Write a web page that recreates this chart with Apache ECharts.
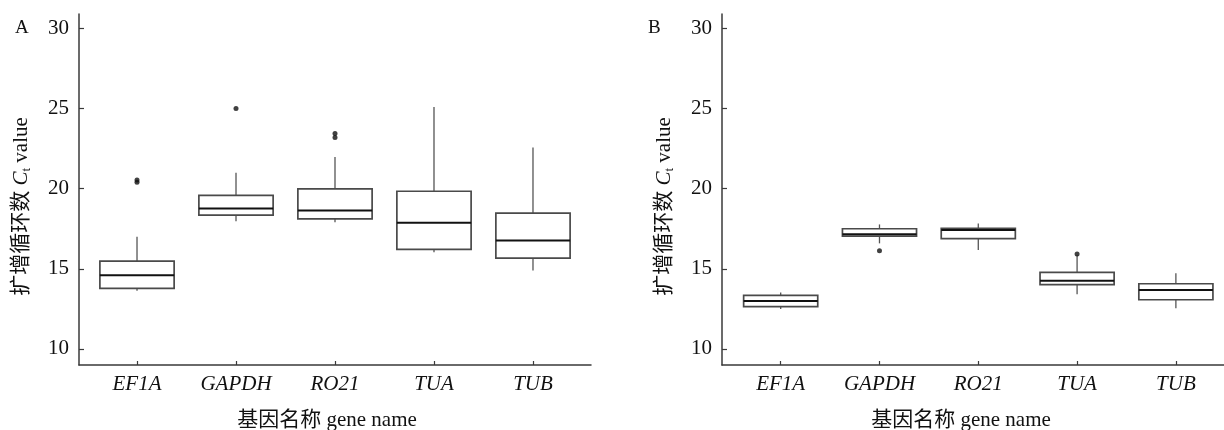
<!DOCTYPE html>
<html>
<head>
<meta charset="utf-8">
<script src="https://cdn.jsdelivr.net/npm/echarts@6/dist/echarts.min.js"></script>
<style>
  html, body { margin: 0; padding: 0; background: #fff; }
  #chart { width: 1224px; height: 430px; }
</style>
</head>
<body>
<div id="chart"></div>
<script>
// 基因名称
const genes = ['EF1A', 'GAPDH', 'RO21', 'TUA', 'TUB']
const yTicks = [10, 15, 20, 25, 30]

// 每个基因: [下须, Q1, 中位数, Q3, 上须]
const boxA = [
  [13.63, 13.78, 14.6, 15.48, 17.0],
  [17.97, 18.35, 18.77, 19.58, 21.0],
  [17.9, 18.12, 18.64, 19.99, 21.98],
  [16.03, 16.21, 17.87, 19.84, 25.1],
  [14.9, 15.67, 16.77, 18.47, 22.57]
]
const boxB = [
  [12.49, 12.64, 12.99, 13.34, 13.53],
  [16.59, 17.04, 17.16, 17.5, 17.77],
  [16.17, 16.89, 17.43, 17.53, 17.83],
  [13.41, 14.01, 14.26, 14.78, 15.85],
  [12.54, 13.07, 13.68, 14.07, 14.72]
]
// 离群点 [基因序号, 值]
const outA = [[0, 20.4], [0, 20.55], [1, 25.0], [2, 23.2], [2, 23.45]]
const outB = [[1, 16.13], [3, 15.92]]

const serif = 'Liberation Serif, "Times New Roman", "Noto Sans CJK SC", serif'
const axisColor = '#3a3a3a'
const boxW = 0.75

function renderBox(params, api) {
  let i = api.value(0)
  let lo = api.coord([i, api.value(1)])
  let q1 = api.coord([i, api.value(2)])
  let md = api.coord([i, api.value(3)])
  let q3 = api.coord([i, api.value(4)])
  let hi = api.coord([i, api.value(5)])
  let half = api.size([boxW, 0])[0] / 2
  let grey = { stroke: '#555', lineWidth: 1.3 }
  return {
    type: 'group',
    children: [
      { type: 'line', shape: { x1: lo[0], y1: lo[1], x2: q1[0], y2: q1[1] }, style: grey },
      { type: 'line', shape: { x1: q3[0], y1: q3[1], x2: hi[0], y2: hi[1] }, style: grey },
      {
        type: 'rect',
        shape: { x: q3[0] - half, y: q3[1], width: half * 2, height: q1[1] - q3[1] },
        style: { fill: '#fff', stroke: '#4a4a4a', lineWidth: 1.7 }
      },
      {
        type: 'line',
        shape: { x1: md[0] - half, y1: md[1], x2: md[0] + half, y2: md[1] },
        style: { stroke: '#111', lineWidth: 2 }
      }
    ]
  }
}

function xAxisOf(gridIndex, min, max, namePad) {
  return {
    type: 'value',
    gridIndex: gridIndex,
    min: min,
    max: max,
    name: '基因名称 gene name',
    nameLocation: 'middle',
    nameGap: 45,
    nameTextStyle: { fontFamily: serif, fontSize: 21, color: '#111', padding: namePad },
    splitLine: { show: false },
    axisLine: { show: true, onZero: false, lineStyle: { color: axisColor, width: 1.5 } },
    axisTick: { show: true, inside: true, length: 4, customValues: [0, 1, 2, 3, 4], lineStyle: { color: axisColor, width: 1.2 } },
    axisLabel: {
      customValues: [0, 1, 2, 3, 4],
      formatter: v => genes[v],
      fontFamily: serif,
      fontStyle: 'italic',
      fontSize: 21,
      color: '#111',
      margin: 9
    }
  }
}

function yAxisOf(gridIndex) {
  return {
    type: 'value',
    gridIndex: gridIndex,
    min: 9,
    max: 30.9,
    name: '{a|扩增循环数 }{c|C}{t|t}{a| value}',
    nameLocation: 'middle',
    nameGap: 46,
    nameRotate: 90,
    nameTextStyle: {
      padding: [0, 34, 0, 0],
      rich: {
        a: { fontFamily: serif, fontSize: 21, color: '#111', lineHeight: 24 },
        c: { fontFamily: serif, fontSize: 21, fontStyle: 'italic', color: '#111', lineHeight: 24 },
        t: { fontFamily: serif, fontSize: 13, color: '#111', lineHeight: 24, verticalAlign: 'bottom', padding: [6, 0, 0, 0] }
      }
    },
    splitLine: { show: false },
    axisLine: { show: true, onZero: false, lineStyle: { color: axisColor, width: 1.5 } },
    axisTick: { show: true, inside: true, length: 5, customValues: yTicks, lineStyle: { color: axisColor, width: 1.2 } },
    axisLabel: {
      customValues: yTicks,
      fontFamily: serif,
      fontSize: 21,
      color: '#111',
      margin: 10
    }
  }
}

const boxRows = arr => arr.map((b, i) => [i].concat(b))

let myChart = echarts.init(document.getElementById('chart'), null, { renderer: 'canvas' })
myChart.setOption({
  animation: false,
  backgroundColor: '#fff',
  title: [
    { text: 'A', left: 10, top: 14, textStyle: { fontFamily: serif, fontSize: 19, fontWeight: 'normal', color: '#111' } },
    { text: 'B', left: 643, top: 14, textStyle: { fontFamily: serif, fontSize: 19, fontWeight: 'normal', color: '#111' } }
  ],
  grid: [
    { left: 79, top: 14, width: 512, height: 351, outerBoundsMode: 'none' },
    { left: 722, top: 14, width: 502, height: 351, outerBoundsMode: 'none' }
  ],
  xAxis: [
    xAxisOf(0, -0.586, 4.586, [0, 16, 0, 0]),
    xAxisOf(1, -0.594, 4.487, [0, 24, 0, 0])
  ],
  yAxis: [yAxisOf(0), yAxisOf(1)],
  series: [
    {
      type: 'custom',
      xAxisIndex: 0,
      yAxisIndex: 0,
      renderItem: renderBox,
      encode: { x: 0, y: [1, 2, 3, 4, 5] },
      data: boxRows(boxA)
    },
    {
      type: 'scatter',
      xAxisIndex: 0,
      yAxisIndex: 0,
      symbolSize: 5,
      itemStyle: { color: '#111' },
      data: outA
    },
    {
      type: 'custom',
      xAxisIndex: 1,
      yAxisIndex: 1,
      renderItem: renderBox,
      encode: { x: 0, y: [1, 2, 3, 4, 5] },
      data: boxRows(boxB)
    },
    {
      type: 'scatter',
      xAxisIndex: 1,
      yAxisIndex: 1,
      symbolSize: 5,
      itemStyle: { color: '#111' },
      data: outB
    }
  ]
})
</script>
</body>
</html>
